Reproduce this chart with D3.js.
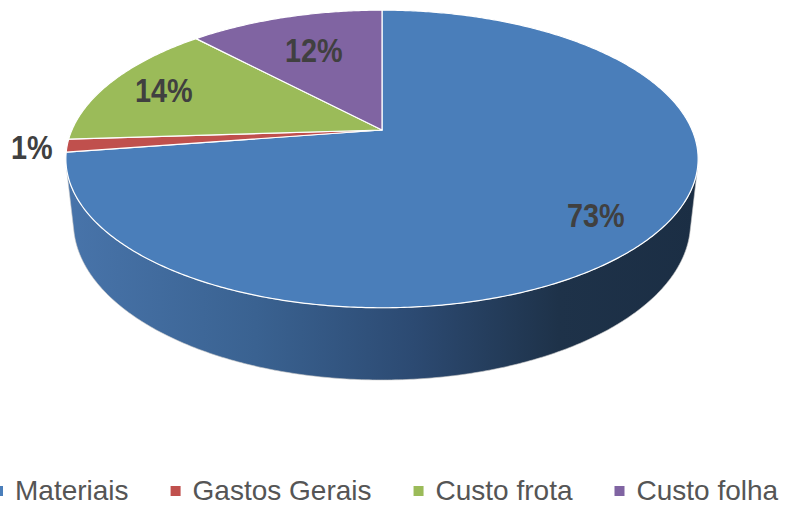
<!DOCTYPE html>
<html>
<head>
<meta charset="utf-8">
<style>
  body { margin: 0; background: #fff; }
  svg { display: block; }
</style>
</head>
<body>
<div id="chart"></div>
<script src="https://cdn.jsdelivr.net/npm/d3@7"></script>
<script>

// data
var categories = [ 'Materiais', 'Gastos Gerais', 'Custo frota', 'Custo folha' ];
var values     = [ 72.6, 1.4, 14.0, 12.0 ];
var colors     = [ '#4a7eba', '#c0504d', '#9bbb59', '#8064a2' ];

// label distance from centre, as a fraction of the radius
var label_radius = [ 0.815, 1.11, 0.8, 0.67 ];

var size = { width: 789, height: 506 };

// perspective set-up for the tilted disk
var view = {
	cx: 382, cy: 130,   // screen position of disk centre
	focal: 1414,
	dist: 4.56,
	tilt: 27.5 * Math.PI / 180,
	depth: 0.233        // thickness of the pie, in radii
};

var sinA = Math.sin( view.tilt ), cosA = Math.cos( view.tilt );

// world (x right, z away from viewer, y up) -> screen
function project( x, z, y )
{
	var yc = z * sinA + y * cosA;
	var dc = view.dist + z * cosA - y * sinA;
	return [ view.cx + view.focal * x / dc, view.cy - view.focal * yc / dc ];
}

// d3 angle (0 = top, clockwise) on a circle of radius r at height y
function rim( a, r, y )
{
	return project( r * Math.sin( a ), r * Math.cos( a ), y );
}

function arc_points( a0, a1, y )
{
	var n = Math.max( 2, Math.ceil( Math.abs( a1 - a0 ) / 0.01 ) );
	return d3.range( n + 1 ).map( function( i ) { return rim( a0 + ( a1 - a0 ) * i / n, 1, y ); } );
}

var svg = d3.select( '#chart' )
	.append( 'svg' )
		.attr( 'width', size.width )
		.attr( 'height', size.height );

var defs = svg.append( 'defs' );
var grad = defs.append( 'linearGradient' )
	.attr( 'id', 'side' )
	.attr( 'gradientUnits', 'userSpaceOnUse' )
	.attr( 'x1', 66 ).attr( 'x2', 698 )
	.attr( 'y1', 0 ).attr( 'y2', 0 );
grad.append( 'stop' ).attr( 'offset', 0 ).attr( 'stop-color', '#4874aa' );
grad.append( 'stop' ).attr( 'offset', 0.3 ).attr( 'stop-color', '#3a6291' );
grad.append( 'stop' ).attr( 'offset', 0.55 ).attr( 'stop-color', '#2c4a72' );
grad.append( 'stop' ).attr( 'offset', 0.78 ).attr( 'stop-color', '#1e3249' );
grad.append( 'stop' ).attr( 'offset', 1 ).attr( 'stop-color', '#1b2e44' );

var pie = d3.pie().sort( null ).value( function( d ) { return d; } );
var slices = pie( values );

var line = d3.line();

// visible part of the side wall (where the rim faces the camera)
var vis = Math.acos( -1 / ( view.dist * cosA ) );
var vis0 = vis, vis1 = 2 * Math.PI - vis;

var sides = svg.append( 'g' );
slices.forEach( function( s, i )
{
	var a0 = Math.max( s.startAngle, vis0 );
	var a1 = Math.min( s.endAngle, vis1 );
	if( a1 <= a0 ) return;
	var top = arc_points( a0, a1, 0 );
	var bottom = arc_points( a1, a0, -view.depth );
	sides.append( 'path' )
		.attr( 'd', line( top.concat( bottom ) ) + 'Z' )
		.attr( 'fill', i == 0 ? 'url(#side)' : d3.color( colors[i] ).darker( 1.2 ) )
		.attr( 'stroke', '#c8c8c8' )
		.attr( 'stroke-width', 0.6 );
});

var tops = svg.append( 'g' );
slices.forEach( function( s, i )
{
	var pts = [ project( 0, 0, 0 ) ].concat( arc_points( s.startAngle, s.endAngle, 0 ) );
	tops.append( 'path' )
		.attr( 'd', line( pts ) + 'Z' )
		.attr( 'fill', colors[i] )
		.attr( 'stroke', '#ffffff' )
		.attr( 'stroke-width', 1.2 )
		.attr( 'stroke-linejoin', 'round' );
});

// percentage labels
var fmt = d3.format( '.0%' );
var total = d3.sum( values );
svg.append( 'g' )
	.selectAll( 'text' )
	.data( slices )
	.enter().append( 'text' )
		.attr( 'transform', function( s, i )
		{
			var p = rim( ( s.startAngle + s.endAngle ) / 2, label_radius[i], 0 );
			return 'translate(' + p[0] + ',' + p[1] + ') scale(0.93,1.06)';
		})
		.attr( 'text-anchor', 'middle' )
		.attr( 'dy', '0.36em' )
		.style( 'font-family', '"Liberation Sans", Arial, sans-serif' )
		.style( 'font-weight', 'bold' )
		.style( 'font-size', '31px' )
		.style( 'fill', '#404040' )
		.text( function( s ) { return fmt( s.value / total ); } );

// legend
var legend = svg.append( 'g' ).attr( 'transform', 'translate(0,500)' );
var x = -7;
categories.forEach( function( c, i )
{
	legend.append( 'rect' )
		.attr( 'x', x ).attr( 'y', -14 )
		.attr( 'width', 10 ).attr( 'height', 10 )
		.attr( 'fill', colors[i] );
	var t = legend.append( 'text' )
		.attr( 'x', x + 22 )
		.attr( 'y', 0 )
		.style( 'font-family', '"Liberation Sans", Arial, sans-serif' )
		.style( 'font-size', '28px' )
		.style( 'fill', '#555555' )
		.text( c );
	x += 22 + t.node().getComputedTextLength() + 42;
});

</script>
</body>
</html>
